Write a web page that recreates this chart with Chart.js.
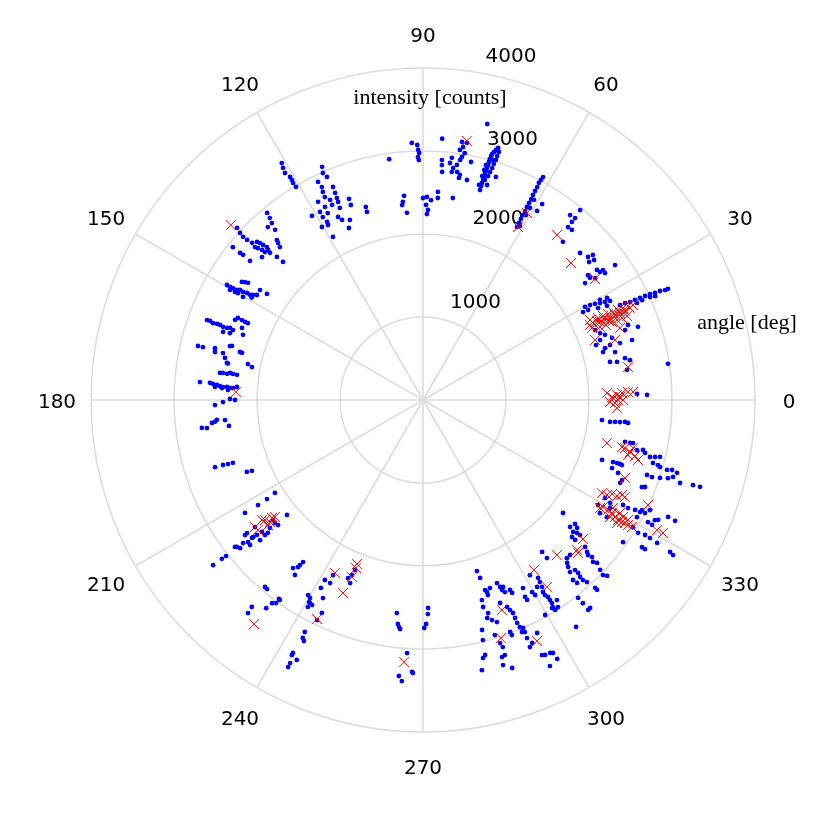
<!DOCTYPE html>
<html lang="en">
<head>
    <meta charset="UTF-8">
    <title>Polar intensity scatter</title>
    <style>
        body {
            margin: 0;
            padding: 0;
            background-color: #ffffff;
        }
        #wrap {
            width: 823px;
            height: 823px;
        }
    </style>
    <script src="https://cdn.jsdelivr.net/npm/chart.js"></script>
</head>
<body>
    <div id="wrap"><canvas id="polarChart" width="823" height="823"></canvas></div>

    <script>
        // tick values
        const angleTicks = [0, 30, 60, 90, 120, 150, 180, 210, 240, 270, 300, 330];
        const radialTicks = [1000, 2000, 3000, 4000];
        const radialMax = 4000;

        // [angle in deg, intensity in counts]
        const blueDots = [
            [91.1,3013],[90.9,2976],[91.2,2928],[91.0,2892],[91.3,3073],[92.5,3100],[98.0,2930],
            [95.3,2470],[95.8,2400],[96.1,2362],[94.9,2263],
            [90.0,2434],[88.9,2446],[87.7,2410],[89.1,2350],[88.5,2290],[88.8,2241],
            [85.9,2513],[85.8,2440],[81.6,2460],
            [85.8,3157],[81.4,3145],[81.0,3086],[81.6,3046],[80.4,3016],[80.9,2965],[81.2,2926],[80.3,3143],
            [83.2,2938],[85.5,2900],[85.4,2840],[85.2,2757],[83.5,2874],[82.6,2818],[81.5,2778],[80.7,2747],
            [80.8,2710],[78.7,2703],[78.6,2925],[82.8,2770],[81.8,2862],
            [74.8,2622],[74.8,2672],[74.8,2710],[74.7,2748],[74.7,2786],[74.7,2824],[74.6,2862],[74.6,2900],
            [74.5,2938],[74.5,2976],[74.5,3014],[74.4,3052],[74.3,3079],[74.0,3109],[73.7,3138],[73.4,3169],
            [74.3,2754],[73.8,2810],[73.6,2863],[73.4,2916],[73.3,2969],[73.1,3023],[73.1,3072],[73.0,3126],
            [75.2,2791],[75.1,2868],[75.0,2932],[75.4,2677],[73.4,2703],[73.7,3012],
            [76.9,3414],[71.9,2827],
            [61.5,2373],[61.5,2427],[61.6,2480],[61.6,2534],[61.6,2588],[61.7,2642],[61.7,2696],[61.7,2750],
            [61.8,2803],[61.8,2857],[61.8,2911],[61.9,2965],[61.8,3008],[61.7,3051],[60.9,2551],[60.9,2649],
            [61.0,2756],[60.9,2400],[58.7,2763],[58.9,2660],
            [51.5,2847],[50.4,2970],[50.1,2797],[50.1,2857],[50.0,2720],[48.8,2724],[48.5,2544],
            [43.1,2592],[40.9,2631],[40.5,2692],[39.7,2601],[39.3,2663],[36.8,2617],[35.9,2632],[35.8,2675],
            [34.9,2674],[37.1,2494],[36.2,2492],[35.8,2408],[35.3,2541],[35.1,2828],
            [25.2,2889],[25.1,2954],[25.0,3019],[24.8,3079],[24.7,3143],[24.4,3203],[24.4,3241],[25.3,2824],
            [25.3,2760],[25.6,2700],[25.7,2635],[24.4,3004],[24.5,2901],[24.1,3064],[24.4,2831],
            [29.9,2251],[29.6,2315],[29.2,2374],[28.7,2432],[28.3,2491],[27.9,2550],[28.6,2265],[27.7,2382],
            [27.1,2490],[28.8,2200],[29.5,2450],[29.0,2535],
            [22.1,2238],[20.7,2281],[19.7,2329],[18.7,2252],[17.6,2187],[15.9,2281],[16.4,2349],[18.2,2397],
            [16.1,2471],[14.9,2245],[11.5,2299],[11.1,2382],[11.7,2486],[10.9,2540],[8.4,2485],[18.8,2736],
            [16.0,2620],[8.4,2984],[19.1,2576],[20.1,2630],[14.0,2385],
            [1.6,2580],[1.3,2700],
            [353.6,2170],[353.3,2269],[353.5,2329],[353.6,2388],[353.8,2448],[353.6,2486],
            [348.3,2486],[348.3,2548],[348.4,2583],[346.8,2648],[347.2,2718],[346.6,2750],[345.9,2820],[346.2,2879],
            [346.5,2937],[344.7,2873],[344.5,2938],[344.2,2968],[344.0,3058],[344.3,3117],[344.0,3184],[342.9,3152],
            [342.1,3254],[342.5,3411],[342.6,3498],[342.3,3098],[341.8,3006],[341.5,2846],[341.4,2911],[338.3,2839],
            [338.6,2873],[341.9,2409],[342.0,2458],[342.0,2496],[341.9,2522],[341.5,2275],[340.2,2421],[339.5,2509],
            [338.1,2585],[337.2,2576],
            [331.7,2491],[329.0,2459],[327.4,2531],[331.2,2573],[332.3,2722],[332.2,2792],[332.6,2878],[332.7,2943],
            [333.0,3002],[331.3,2939],[333.3,2953],[334.1,3039],[332.6,3147],[331.5,3084],[331.4,3144],[333.0,3180],
            [334.5,3272],[334.4,3368],[328.8,2957],[328.3,3046],[328.7,3131],[328.7,3201],[328.6,3305],[328.4,3495],
            [328.2,3545],[326.1,3179],[326.1,3222],[324.6,2956],[330.0,2602],[327.5,2627],
            [319.2,2341],[320.8,2364],[320.3,2413],[318.7,2408],[319.2,2452],[319.3,2495],[317.4,2439],[317.4,2490],
            [317.8,2636],[317.2,2694],[316.8,2728],[317.1,2780],[316.4,2829],[316.9,2873],[311.5,2621],[311.0,2665],
            [310.5,2727],[311.8,2748],[311.9,2799],[311.6,2851],[311.6,2902],[312.0,2952],[309.8,2823],[310.1,2882],
            [315.8,3025],[316.3,3068],[312.5,3070],[312.5,3104],[308.1,3030],[308.2,3115],[308.8,3214],[308.2,3218],
            [321.1,2168],[316.2,2957],[312.3,2576],[313.5,2574],
            [308.1,2326],[308.1,2420],[301.4,2472],[298.0,2566],[297.4,2673],[297.5,2716],[302.9,2553],[302.7,2607],
            [302.5,2671],[302.0,2728],[302.0,2772],[302.4,2811],[302.4,2855],[302.4,2898],[302.1,2945],[303.8,2901],
            [303.1,2978],[302.2,2989],[301.8,2950],[301.4,2639],[299.9,2710],[299.6,2661],[299.6,2979],[304.0,3298],
            [287.5,2161],[287.8,2252],[288.1,2409],[288.4,2439],[289.6,2405],[292.0,2379],[292.4,2437],[293.2,2451],
            [292.6,2480],[293.1,2516],[294.6,2518],[294.8,2561],[286.4,2513],[286.2,2597],[287.0,2684],[286.4,2738],
            [287.4,2779],[288.4,2820],[290.8,2616],[292.1,2692],[292.5,2739],[292.9,2786],[292.9,2851],[292.9,2916],
            [293.1,2975],[293.7,3000],[293.7,3054],[290.6,2986],[290.7,3028],[287.0,2962],[287.6,3072],[287.9,3128],
            [284.4,2861],[284.0,2981],[283.7,3162],[283.1,3192],[282.3,3331],[287.1,3240],[287.8,3228],[286.8,3336],
            [288.4,3403],[296.1,3126],[294.2,3209],[293.4,3244],[295.0,3391],[295.6,3406],[296.7,3411],[297.2,3427],
            [297.4,3514],[295.5,3552],[293.6,3130],[293.1,3039],[288.4,2477],
            [263.0,2586],[263.6,2716],[264.0,2751],[264.3,2774],[271.4,2507],[271.3,2580],[270.8,2699],[270.3,2747],
            [266.4,3055],[267.7,3280],[267.9,3292],[265.0,3338],[265.7,3396],
            [232.3,2560],[233.2,2514],[233.3,2480],[233.5,2429],[233.8,2613],[241.5,2577],[241.4,2470],[243.1,2474],
            [242.8,2371],[243.2,2673],[247.2,2328],[247.9,2276],[248.3,2374],[248.2,2206],[239.5,2728],[240.3,2747],
            [240.6,2795],[241.6,2809],[240.9,2853],[240.9,2800],[244.6,2840],[244.3,2943],[243.0,3137],[243.2,3212],
            [243.7,3239],[242.8,3455],[242.8,3427],[244.1,3481],[243.2,3551],[243.2,3605],[234.4,2963],
            [229.8,2950],[230.5,2953],[230.4,3236],[230.6,3322],[233.4,3049],[234.1,3020],[234.1,2960],[233.0,3140],
            [218.2,3218],[218.3,3088],[218.4,3028],[218.0,2875],[218.3,2857],[219.0,2836],[218.5,2770],[217.2,2692],
            [219.1,2716],[220.0,2720],[217.1,2658],[218.9,2647],[218.9,2631],[219.1,2578],[220.7,2589],[219.3,2509],
            [220.5,2504],[220.6,2461],[219.9,2404],[218.7,2315],[219.7,2319],[220.8,2307],[220.2,2146],[212.5,2357],
            [212.4,2227],[212.1,2106],[212.4,2540],[217.1,2538],
            [202.2,2292],[202.5,2231],[197.9,2633],[198.0,2534],[198.2,2473],[198.3,2412],
            [181.4,2507],[180.6,2410],[179.7,2326],[180.0,2265],[186.2,2558],[186.0,2521],[185.5,2494],[187.2,2685],
            [187.4,2625],[185.8,2398],[187.6,2358],
            [172.4,2468],[172.3,2432],[172.4,2382],[172.0,2349],[172.2,2311],[172.3,2262],[175.4,2575],[175.6,2538],
            [175.8,2488],[176.1,2452],[176.3,2415],[176.2,2367],[176.4,2330],[176.4,2294],[176.0,2247],[176.4,2511],
            [176.6,2427],[177.1,2353],[175.4,2696],
            [166.5,2788],[166.5,2727],[167.0,2572],[166.0,2583],[166.8,2475],[168.0,2439],[164.4,2415],[164.2,2392],
            [165.3,2280],[165.4,2253],[168.4,2153],[169.1,2099],[169.3,2404],[169.4,2392],
            [159.7,2775],[159.6,2738],[159.9,2695],[159.7,2646],[159.7,2608],[159.9,2565],[159.8,2516],[159.5,2482],
            [159.8,2440],[161.2,2545],[160.9,2462],[156.9,2462],[156.1,2439],[156.2,2385],[156.3,2341],[156.3,2304],
            [158.3,2347],[160.1,2306],
            [149.6,2738],[150.3,2677],[149.5,2658],[149.4,2604],[149.0,2573],[149.0,2529],[148.7,2482],[148.7,2439],
            [148.3,2408],[147.7,2367],[146.0,2369],[146.9,2604],[146.5,2574],[146.2,2537],[150.0,2575],[145.8,2273],
            [150.2,2499],[149.1,2405],[149.6,2695],[150.1,2613],
            [137.2,3052],[137.6,2985],[137.8,2926],[137.7,2866],[137.4,2797],[137.7,2738],[137.4,2703],[137.0,2651],
            [136.9,2609],[135.9,2599],[135.9,2684],[136.1,2727],[136.4,2762],[135.6,2633],[136.1,2557],[138.4,2594],
            [141.2,2939],[141.2,2828],[141.1,2785],[141.2,2674],[132.4,2610],[132.7,2575],[133.1,2523],[135.6,2463],
            [135.4,2369],[129.8,2934],[130.1,2865],[130.5,2804],[131.0,2716],[131.9,2799],
            [120.8,3323],[121.1,3265],[121.3,3201],[120.8,3129],[120.8,3085],[120.9,3048],[120.8,2988],
            [113.4,3061],[113.8,2989],[113.3,2926],[115.7,2916],[115.4,2840],[115.7,2781],[115.8,2716],[114.9,2658],
            [112.9,2786],[113.0,2710],[113.1,2645],[113.2,2597],[113.4,2521],[115.0,2593],[116.9,2609],[118.7,2583],
            [118.7,2513],[118.3,2437],[120.3,2414],[118.5,2399],[118.9,2244],[114.9,2431],[114.2,2379],[110.2,2581],
            [110.3,2505],[112.1,2341],[113.3,2256],[117.9,2701],[121.1,2590],[117.0,2527],[106.5,2425],[106.6,2364]
        ];

        const redCrosses = [
            [80.4,3166],[60.9,2578],[61.2,2378],[50.9,2562],[42.8,2430],[35.1,2534],
            [23.6,2261],[23.8,2331],[23.7,2396],[23.7,2461],[23.9,2530],[23.8,2595],[23.8,2660],[24.0,2730],
            [24.3,2777],[25.1,2329],[25.0,2393],[24.9,2458],[24.8,2523],[24.8,2588],[24.7,2653],[24.6,2717],
            [22.4,2307],[22.3,2383],[22.4,2464],[22.4,2528],[22.4,2593],[22.4,2658],[23.1,2214],[25.6,2231],
            [23.5,2510],[23.4,2574],[23.0,2435],[24.1,2389],[23.4,2639],[24.4,2303],[24.2,2206],
            [19.2,2195],[17.4,2424],[20.1,2527],[9.1,2502],
            [2.2,2219],[0.9,2278],[1.5,2339],[2.0,2399],[2.2,2472],[2.2,2533],[359.4,2253],[359.1,2314],
            [0.0,2350],[0.0,2410],[357.6,2340],[0.6,2290],[0.9,2374],
            [346.8,2277],[346.6,2502],[345.9,2572],[345.2,2642],[345.0,2557],[344.4,2690],[346.7,2464],[347.1,2596],
            [338.9,2609],[335.0,2992],[330.9,3226],[331.0,3306],
            [332.5,2431],[332.7,2495],[333.6,2544],[333.7,2608],[334.5,2657],[334.3,2700],[329.3,2523],[329.3,2593],
            [329.1,2653],[328.6,2709],[328.4,2759],[328.5,2813],[328.7,2850],[328.6,2893],[328.7,2947],[330.4,2633],
            [330.2,2737],[329.7,2792],[329.7,2862],[327.6,2768],[328.0,2658],[328.6,2498],
            [319.0,2554],[315.8,2591],[315.4,2624],[310.8,2469],
            [303.1,2446],[303.6,2704],[290.6,2704],[288.1,3018],[295.3,3213],
            [265.9,3166],
            [243.0,2339],[247.5,2517],[248.1,2298],[248.3,2180],[248.1,2130],[244.2,2932],[233.0,3381],
            [217.1,2538],[216.7,2420],[218.9,2399],[218.0,2309],[218.2,2531],[217.2,2391],[218.6,2358],[218.3,2274],
            [177.6,2255],
            [137.7,3131]
        ];

        // polar -> cartesian so the linear scales can place the points
        function toXY(p) {
            const a = p[0] * Math.PI / 180;
            return { x: p[1] * Math.cos(a), y: p[1] * Math.sin(a) };
        }

        const gridColor = '#dcdcdc';
        const tickFont = '20px "DejaVu Sans"';
        const titleFont = '22px "Liberation Serif"';

        // draws the circles, spokes and labels of the polar frame
        const polarFrame = {
            id: 'polarFrame',
            beforeDatasetsDraw(chart) {
                const ctx = chart.ctx;
                const xs = chart.scales.x;
                const ys = chart.scales.y;
                const cx = xs.getPixelForValue(0);
                const cy = ys.getPixelForValue(0);
                const rad = v => xs.getPixelForValue(v) - cx;
                const outer = rad(radialMax);

                ctx.save();
                ctx.strokeStyle = gridColor;
                ctx.lineWidth = 1.6;

                radialTicks.forEach(v => {
                    ctx.beginPath();
                    ctx.arc(cx, cy, rad(v), 0, Math.PI * 2);
                    ctx.stroke();
                });

                angleTicks.forEach(a => {
                    const t = a * Math.PI / 180;
                    ctx.beginPath();
                    ctx.moveTo(cx, cy);
                    ctx.lineTo(cx + outer * Math.cos(t), cy - outer * Math.sin(t));
                    ctx.stroke();
                });

                // angle labels
                ctx.fillStyle = '#000';
                ctx.font = tickFont;
                ctx.textAlign = 'center';
                ctx.textBaseline = 'middle';
                const labelR = outer + 34;
                angleTicks.forEach(a => {
                    const t = a * Math.PI / 180;
                    ctx.fillText(String(a), cx + labelR * Math.cos(t), cy - labelR * Math.sin(t) + 3);
                });

                // intensity labels, next to each ring
                const shift = [[31, -17], [32, -21], [25, -20], [2, -23]];
                const t75 = 75 * Math.PI / 180;
                radialTicks.forEach((v, i) => {
                    const r = rad(v);
                    ctx.fillText(String(v),
                        cx + r * Math.cos(t75) + shift[i][0],
                        cy - r * Math.sin(t75) + shift[i][1]);
                });

                // axis titles
                ctx.font = titleFont;
                ctx.fillText('intensity [counts]', cx + 7, cy - 302);
                ctx.fillText('angle [deg]', cx + 324, cy - 77);
                ctx.restore();
            }
        };

        const ctx = document.getElementById('polarChart').getContext('2d');
        const polarChart = new Chart(ctx, {
            type: 'scatter',
            data: {
                datasets: [
                    {
                        label: 'flagged',
                        data: redCrosses.map(toXY),
                        pointStyle: 'crossRot',
                        pointRadius: 7,
                        borderColor: 'red',
                        backgroundColor: 'red',
                        borderWidth: 1,
                        clip: false
                    },
                    {
                        label: 'measured',
                        data: blueDots.map(toXY),
                        pointStyle: 'circle',
                        pointRadius: 2.4,
                        borderWidth: 0,
                        backgroundColor: 'blue',
                        borderColor: 'blue',
                        clip: false
                    }
                ]
            },
            options: {
                responsive: false,
                animation: false,
                devicePixelRatio: 1,
                layout: {
                    padding: { left: 91, right: 68, top: 68, bottom: 91 }
                },
                scales: {
                    x: { type: 'linear', min: -radialMax, max: radialMax, display: false },
                    y: { type: 'linear', min: -radialMax, max: radialMax, display: false }
                },
                plugins: {
                    legend: { display: false },
                    tooltip: { enabled: false }
                }
            },
            plugins: [polarFrame]
        });
    </script>
</body>
</html>
